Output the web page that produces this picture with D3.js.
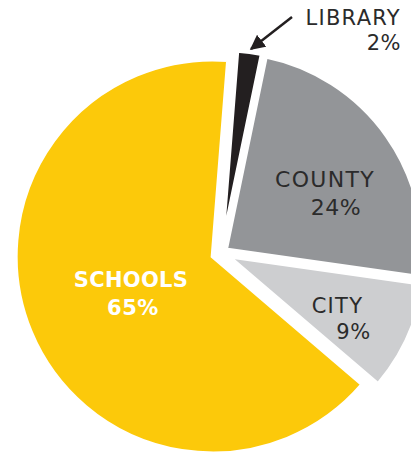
<!DOCTYPE html>
<html>
<head>
<meta charset="utf-8">
<script src="https://cdn.jsdelivr.net/npm/d3@7"></script>
<style>
  html, body { margin: 0; padding: 0; background: #fff; }
  svg { display: block; }
</style>
</head>
<body>
<svg id="chart" width="411" height="454"></svg>
<script>
// ---- data ----
const categories = ["LIBRARY", "COUNTY", "CITY", "SCHOOLS"];
const shares = [2, 24, 9, 65];

// ---- style / layout ----
const colors = ["#231f20", "#939598", "#cdced0", "#fcc90a"];
const explode = [6, 6, 8, 9];
const labelColor = ["#2b2b2b", "#2b2b2b", "#2b2b2b", "#ffffff"];
const labelWeight = [500, 500, 500, 700];
const labelSize = [21, 22, 21, 21];
const labelPos = [
  { anchor: "end", l1: [401, 25], l2: [401, 50] },
  { anchor: "middle", l1: [325, 187], l2: [336, 215] },
  { anchor: "middle", l1: [337.5, 313], l2: [353.5, 339] },
  { anchor: "middle", l1: [131, 287], l2: [133, 315] }
];

const cx = 221, cy = 253, R = 197;
const svg = d3.select("#chart");

const rows = categories.map((c, i) => ({ name: c, value: shares[i], i }));
const startA = 4.5 * Math.PI / 180;
const pie = d3.pie().sort(null).value(d => d.value)
  .startAngle(startA).endAngle(startA + 2 * Math.PI);
const arc = d3.arc().innerRadius(0).outerRadius(R);

const arcs = pie(rows);
const g = svg.append("g").attr("transform", `translate(${cx},${cy})`);

g.selectAll("path").data(arcs).join("path")
  .attr("d", arc)
  .attr("fill", d => colors[d.data.i])
  .attr("stroke", "#fff")
  .attr("stroke-width", 4)
  .attr("stroke-linejoin", "miter")
  .attr("transform", d => {
    const a = (d.startAngle + d.endAngle) / 2;
    const k = explode[d.data.i];
    return `translate(${k * Math.sin(a)},${-k * Math.cos(a)})`;
  });

// labels
const font = "'DejaVu Sans', sans-serif";
rows.forEach(r => {
  const p = labelPos[r.i];
  svg.append("text")
    .attr("x", p.l1[0]).attr("y", p.l1[1])
    .attr("text-anchor", p.anchor)
    .attr("font-family", font)
    .attr("font-size", labelSize[r.i])
    .attr("font-weight", labelWeight[r.i])
    .attr("letter-spacing", r.i === 3 ? 0.3 : 1.3)
    .attr("fill", labelColor[r.i])
    .text(r.name);
  svg.append("text")
    .attr("x", p.l2[0]).attr("y", p.l2[1])
    .attr("text-anchor", p.anchor)
    .attr("font-family", font)
    .attr("font-size", labelSize[r.i])
    .attr("font-weight", labelWeight[r.i])
    .attr("letter-spacing", 0.5)
    .attr("fill", labelColor[r.i])
    .text(r.value + "%");
});

// arrow pointing at library slice
svg.append("defs").append("marker")
  .attr("id", "ah").attr("viewBox", "0 0 10 10")
  .attr("refX", 9).attr("refY", 5)
  .attr("markerWidth", 6).attr("markerHeight", 6)
  .attr("markerUnits", "strokeWidth")
  .attr("orient", "auto")
  .append("path").attr("d", "M0,0 L10,5 L0,10 Z").attr("fill", "#231f20");

svg.append("line")
  .attr("x1", 292).attr("y1", 17).attr("x2", 251).attr("y2", 49)
  .attr("stroke", "#231f20").attr("stroke-width", 2.5)
  .attr("marker-end", "url(#ah)");
</script>
</body>
</html>
